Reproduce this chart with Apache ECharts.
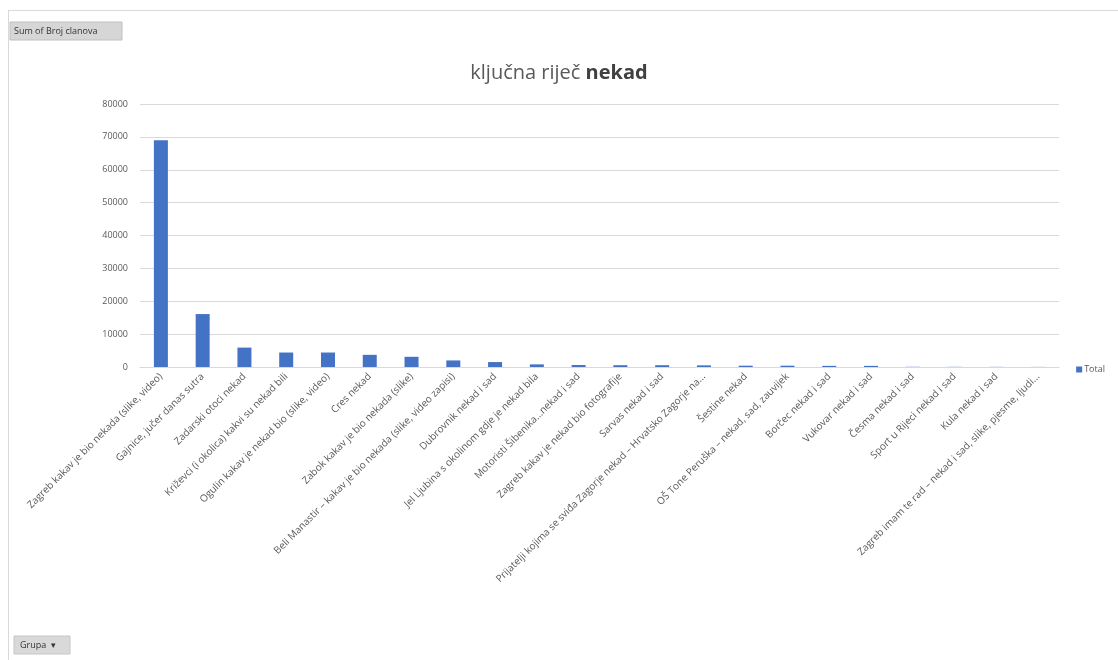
<!DOCTYPE html>
<html>
<head>
<meta charset="utf-8">
<script src="https://cdn.jsdelivr.net/npm/echarts@6/dist/echarts.min.js"></script>
<style>
html,body{margin:0;padding:0;background:#fff;}
#chart{width:1118px;height:660px;}
</style>
</head>
<body>
<div id="chart"></div>
<script>
var categories = [
  'Zagreb kakav je bio nekada (slike, video)',
  'Gajnice, jučer danas sutra',
  'Zadarski otoci nekad',
  'Križevci (i okolica) kakvi su nekad bili',
  'Ogulin kakav je nekad bio (slike, video)',
  'Cres nekad',
  'Zabok kakav je bio nekada (slike)',
  'Beli Manastir – kakav je bio nekada (slike, video zapisi)',
  'Dubrovnik nekad i sad',
  'Jel Ljubina s okolinom gdje je nekad bila',
  'Motoristi Šibenika...nekad i sad',
  'Zagreb kakav je nekad bio fotografije',
  'Sarvas nekad i sad',
  'Prijatelji kojima se sviđa Zagorje nekad – Hrvatsko Zagorje na...',
  'Šestine nekad',
  'OŠ Tone Peruška – nekad, sad, zauvijek',
  'Borčec nekad i sad',
  'Vukovar nekad i sad',
  'Česma nekad i sad',
  'Sport u Rijeci nekad i sad',
  'Kula nekad i sad',
  'Zagreb imam te rad – nekad i sad, slike, pjesme, ljudi...'
];
var totals = [69000, 16100, 5900, 4400, 4400, 3700, 3100, 2000, 1500, 800, 600, 550, 550, 500, 400, 400, 350, 350, 60, 50, 40, 30];
var yTicks = [0, 10000, 20000, 30000, 40000, 50000, 60000, 70000, 80000];
var seriesName = 'Total';

var chart = echarts.init(document.getElementById('chart'));
var font = '"Open Sans", "Noto Sans", sans-serif';
chart.setOption({
  animation: false,
  backgroundColor: '#fff',
  title: {
    text: '{a|ključna riječ }{b|nekad}',
    left: 'center',
    top: 58,
    textStyle: {
      fontWeight: 'normal',
      rich: {
        a: {fontFamily: font, fontSize: 20, color: '#595959', fontWeight: 'normal'},
        b: {fontFamily: font, fontSize: 20, color: '#404040', fontWeight: 'bold'}
      }
    }
  },
  legend: {
    data: [seriesName],
    right: 8,
    top: 360,
    orient: 'vertical',
    itemWidth: 6,
    itemHeight: 6,
    itemGap: 4,
    icon: 'rect',
    textStyle: {fontFamily: font, fontSize: 9, color: '#595959', padding: [0,0,0,-3]}
  },
  grid: {left: 140, right: 59, top: 104, bottom: 293},
  xAxis: {
    type: 'category',
    data: categories,
    axisLine: {lineStyle: {color: '#d9d9d9'}},
    axisTick: {show: false},
    axisLabel: {
      interval: 0,
      rotate: 45,
      margin: 8,
      fontFamily: font,
      fontSize: 10,
      color: '#595959'
    }
  },
  yAxis: {
    type: 'value',
    min: yTicks[0],
    max: yTicks[yTicks.length - 1],
    interval: yTicks[1] - yTicks[0],
    axisLine: {show: false},
    axisTick: {show: false},
    splitLine: {lineStyle: {color: '#d9d9d9'}},
    axisLabel: {fontFamily: font, fontSize: 9, color: '#595959', margin: 12, formatter: function (v) { return String(v); }}
  },
  series: [{
    name: seriesName,
    type: 'bar',
    data: totals,
    barWidth: 14,
    itemStyle: {color: '#4472C4'}
  }],
  graphic: [
    {type: 'line', shape: {x1: 8.5, y1: 10, x2: 8.5, y2: 660}, style: {stroke: '#d9d9d9', lineWidth: 1}},
    {type: 'line', shape: {x1: 8, y1: 10.5, x2: 1118, y2: 10.5}, style: {stroke: '#d9d9d9', lineWidth: 1}},
    {type: 'rect', shape: {x: 10, y: 22, width: 112, height: 18}, style: {fill: '#d6d6d6', stroke: '#c0c0c0', lineWidth: 1}},
    {type: 'text', x: 14, y: 31, style: {text: 'Sum of Broj clanova', fontFamily: font, fontSize: 9, fill: '#333', verticalAlign: 'middle'}},
    {type: 'rect', shape: {x: 14, y: 636, width: 56, height: 18}, style: {fill: '#d9d9d9', stroke: '#c6c6c6', lineWidth: 1}},
    {type: 'text', x: 20, y: 645, style: {text: 'Grupa  ▾', fontFamily: font, fontSize: 9, fill: '#333', verticalAlign: 'middle'}}
  ]
});
</script>
</body>
</html>
